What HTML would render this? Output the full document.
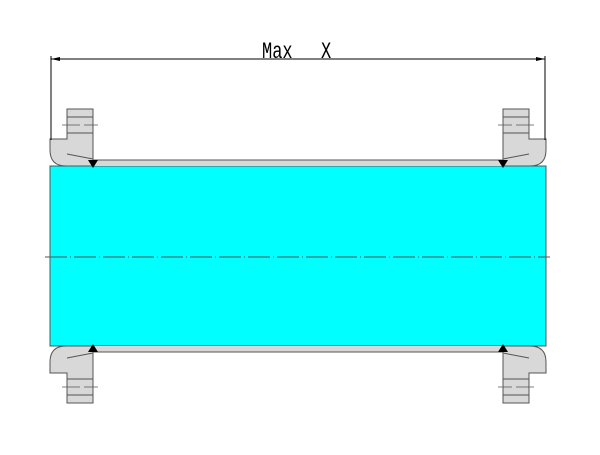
<!DOCTYPE html>
<html><head><style>html,body{margin:0;padding:0;background:#fff}</style></head>
<body>
<svg width="600" height="450" viewBox="0 0 600 450" xmlns="http://www.w3.org/2000/svg">
<defs>
<g id="q" stroke="#555" stroke-width="1" fill="#d8d8d8">
  <rect x="93" y="160" width="210" height="6" stroke="none"/>
  <line x1="93" y1="160" x2="303" y2="160"/>
  <path d="M50,139 H67 V109 H93 V159 L93,160 V166 H66 Q50,166 50,150 Z"/>
  <path d="M67,154 L93,159" fill="none"/>
  <line x1="67" y1="117" x2="93" y2="117"/>
  <line x1="67" y1="133" x2="93" y2="133"/>
  <path d="M62,125 H80 M84,125 H98" fill="none" stroke-width="0.8"/>
  <polygon points="88,160 98,160 93,168" fill="#000" stroke="none"/>
</g>
</defs>
<rect x="50" y="166" width="496" height="180" fill="#00ffff" stroke="#555" stroke-width="1"/>
<use href="#q"/>
<use href="#q" transform="translate(596,0) scale(-1,1)"/>
<use href="#q" transform="translate(0,512) scale(1,-1)"/>
<use href="#q" transform="translate(596,512) scale(-1,-1)"/>
<line x1="45" y1="257" x2="550" y2="257" stroke="#555" stroke-width="1" stroke-dasharray="22,3,1,3"/>
<g stroke="#000" stroke-width="1">
  <line x1="51" y1="59" x2="545" y2="59"/>
  <line x1="51" y1="56" x2="51" y2="140"/>
  <line x1="545" y1="56" x2="545" y2="140"/>
</g>
<polygon points="51,59 60,57 60,61" fill="#000"/>
<polygon points="545,59 536,57 536,61" fill="#000"/>
<g font-family="Liberation Mono, monospace" font-size="20" fill="#000">
  <text transform="translate(262,58) scale(0.85,1.15)">Max</text>
  <text transform="translate(321,58) scale(0.85,1.15)">X</text>
</g>
</svg>
</body></html>
